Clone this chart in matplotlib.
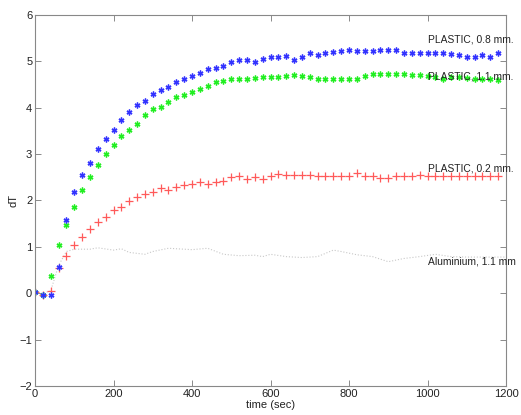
import matplotlib
matplotlib.use("Agg")
import matplotlib.pyplot as plt
import numpy as np

plt.rcParams['font.family'] = ['Liberation Sans', 'DejaVu Sans']

# time axis (seconds), one sample every 20 s
time_s = list(range(0, 1181, 20))

plastic_08 = [0.02, -0.03, -0.03, 0.57, 1.58, 2.19, 2.55, 2.80, 3.12, 3.33,
              3.52, 3.74, 3.91, 4.05, 4.14, 4.29, 4.38, 4.44, 4.56, 4.62,
              4.69, 4.74, 4.84, 4.86, 4.90, 4.99, 5.02, 5.02, 4.99, 5.05,
              5.09, 5.09, 5.12, 5.03, 5.10, 5.17, 5.14, 5.19, 5.20, 5.22,
              5.25, 5.23, 5.23, 5.22, 5.25, 5.25, 5.25, 5.19, 5.17, 5.17,
              5.17, 5.17, 5.17, 5.16, 5.13, 5.10, 5.10, 5.14, 5.09, 5.17]

plastic_11 = [0.02, -0.03, 0.38, 1.04, 1.47, 1.85, 2.23, 2.50, 2.76, 3.00,
              3.19, 3.39, 3.51, 3.65, 3.85, 3.98, 4.01, 4.13, 4.23, 4.27,
              4.34, 4.40, 4.46, 4.56, 4.58, 4.61, 4.61, 4.61, 4.64, 4.66,
              4.67, 4.67, 4.69, 4.70, 4.69, 4.66, 4.63, 4.63, 4.63, 4.61,
              4.63, 4.63, 4.69, 4.72, 4.73, 4.72, 4.72, 4.72, 4.70, 4.70,
              4.69, 4.67, 4.63, 4.66, 4.67, 4.64, 4.63, 4.63, 4.63, 4.60]

plastic_02 = [0.02, -0.03, 0.05, 0.54, 0.81, 1.04, 1.21, 1.38, 1.53, 1.65,
              1.79, 1.85, 1.98, 2.07, 2.14, 2.19, 2.26, 2.23, 2.29, 2.33,
              2.36, 2.40, 2.36, 2.39, 2.43, 2.50, 2.52, 2.47, 2.50, 2.47,
              2.52, 2.57, 2.55, 2.55, 2.55, 2.55, 2.53, 2.53, 2.53, 2.52,
              2.53, 2.60, 2.53, 2.53, 2.49, 2.49, 2.53, 2.53, 2.53, 2.56,
              2.53, 2.53, 2.53, 2.53, 2.53, 2.53, 2.53, 2.52, 2.52, 2.52]

alu_time = [0, 20, 40, 60, 80, 100, 140, 160, 200, 220, 240, 280, 300, 340,
            400, 440, 480, 520, 560, 580, 600, 640, 680, 720, 760, 780, 820,
            860, 900, 940, 980, 1020, 1060, 1100, 1140, 1200]
alu_11 = [0.0, 0.0, 0.05, 0.6, 0.9, 0.95, 0.95, 0.98, 0.93, 0.96, 0.88, 0.84,
          0.90, 0.97, 0.94, 0.97, 0.84, 0.81, 0.82, 0.79, 0.84, 0.79, 0.77,
          0.79, 0.93, 0.90, 0.83, 0.79, 0.68, 0.75, 0.79, 0.84, 0.79, 0.78,
          0.78, 0.78]

labels = ["PLASTIC, 0.8 mm.", "PLASTIC, 1.1 mm.", "PLASTIC, 0.2 mm.", "Aluminium, 1.1 mm"]
label_x = [1000, 1000, 1000, 1000]
label_y = [5.48, 4.67, 2.70, 0.68]

fig = plt.figure(figsize=(5.21, 4.15), dpi=100)
ax = fig.add_axes([35/521, 1-386/415, (506-35)/521, (386-15)/415])

ax.plot(alu_time, alu_11, linestyle=':', color='#c8c8c8', linewidth=0.8)
ax.plot(time_s, plastic_02, linestyle='none', marker='+', color='#ff5a5a',
        markersize=6, markeredgewidth=0.9)
ax.plot(time_s, plastic_11, linestyle='none', marker=(6, 2, 0), color='#22ee22',
        markersize=4.2, markeredgewidth=1.0)
ax.plot(time_s, plastic_08, linestyle='none', marker=(6, 2, 0), color='#3333ff',
        markersize=4.2, markeredgewidth=1.0)

for t, x, y in zip(labels, label_x, label_y):
    ax.text(x, y, t, fontsize=7.4, ha='left', va='center', color='#222222')

ax.set_xlim(0, 1200)
ax.set_ylim(-2, 6)
ax.set_xticks(range(0, 1201, 200))
ax.set_yticks(range(-2, 7))
ax.tick_params(direction='in', top=True, right=True, labelsize=8,
               length=4, width=0.6, color='#777777', pad=2, labelcolor='#222222')
for s in ax.spines.values():
    s.set_color('#888888')
    s.set_linewidth(0.8)
ax.set_xlabel('time (sec)', fontsize=8, labelpad=1, color='#222222')
ax.set_ylabel('dT', fontsize=8, labelpad=1, color='#222222')

fig.savefig('out.png', dpi=100)
